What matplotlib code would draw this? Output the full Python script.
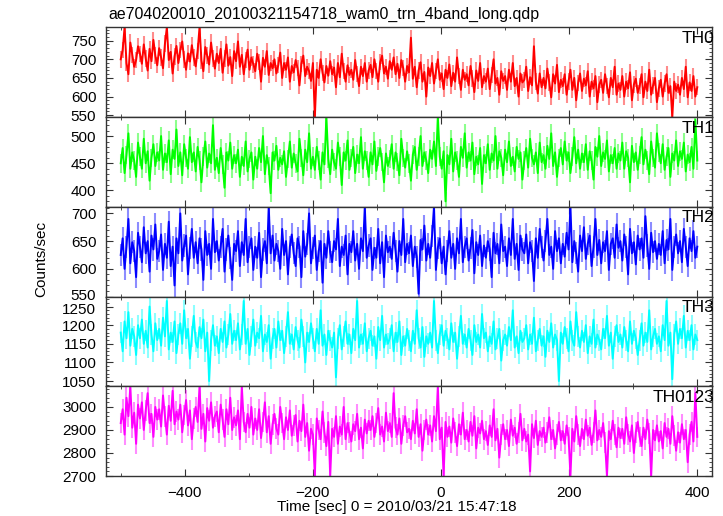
import numpy as np
import matplotlib
matplotlib.use("Agg")
import matplotlib.pyplot as plt
import matplotlib.transforms as mtransforms
from matplotlib.ticker import MultipleLocator

plt.rcParams['font.family'] = ['Liberation Sans', 'DejaVu Sans']

# light curve, 3 s bins from -500 s to 400 s
t_start = -500
bin_sec = 3

th0 = [
    700, 725, 786, 690, 660, 745, 712, 680, 698, 735,
    715, 688, 740, 702, 670, 728, 695, 752, 710, 684,
    730, 705, 676, 742, 786, 698, 720, 662, 708, 736,
    690, 725, 748, 700, 672, 716, 694, 738, 705, 681,
    722, 786, 697, 668, 733, 710, 686, 745, 702, 675,
    715, 690, 728, 664, 702, 740, 683, 706, 655, 722,
    695, 748, 680, 712, 660, 698, 726, 672, 705, 686,
    668, 715, 692, 640, 704, 680, 722, 658, 690, 676,
    700, 662, 685, 718, 650, 690, 672, 705, 640, 682,
    665, 698, 676, 630, 688, 710, 655, 680, 668, 642,
    690, 545, 672, 650, 700, 664, 638, 682, 656, 695,
    660, 678, 625, 690, 652, 715, 668, 640, 684, 658,
    672, 645, 698, 660, 628, 680, 655, 690, 640, 670,
    685, 652, 700, 668, 640, 692, 710, 662, 680, 648,
    695, 672, 705, 660, 688, 650, 698, 676, 640, 682,
    665, 758, 648, 680, 625, 670, 692, 640, 666, 600,
    678, 655, 690, 635, 668, 700, 645, 662, 620, 672,
    650, 686, 628, 664, 640, 705, 655, 618, 672, 645,
    660, 630, 682, 648, 612, 670, 642, 690, 625, 655,
    640, 675, 620, 658, 700, 635, 650, 605, 668, 642,
    655, 618, 672, 640, 690, 628, 650, 600, 662, 638,
    645, 680, 615, 652, 630, 735, 640, 608, 662, 625,
    650, 622, 675, 638, 598, 660, 635, 685, 612, 645,
    628, 660, 605, 640, 672, 618, 650, 590, 636, 662,
    615, 648, 630, 668, 600, 640, 622, 655, 585, 632,
    645, 610, 660, 628, 598, 650, 625, 680, 605, 635,
    618, 655, 600, 640, 622, 665, 590, 632, 648, 610,
    628, 660, 598, 640, 615, 672, 605, 630, 650, 585,
    622, 645, 600, 635, 660, 610, 628, 545, 640, 615,
    632, 605, 650, 620, 680, 598, 638, 615, 655, 600,
    625,
]

th1 = [
    450, 478, 432, 465, 505, 440, 470, 455, 425, 488,
    462, 440, 495, 450, 472, 418, 460, 485, 445, 470,
    455, 500, 438, 468, 452, 492, 430, 475, 458, 512,
    445, 470, 428, 485, 460, 440, 498, 452, 470, 435,
    480, 455, 415, 462, 490, 442, 468, 450, 520, 438,
    460, 432, 478, 448, 405, 470, 455, 488, 440, 465,
    450, 475, 425, 462, 445, 490, 435, 458, 470, 420,
    462, 440, 478, 452, 500, 430, 465, 445, 395, 470,
    455, 482, 438, 460, 448, 472, 425, 458, 490, 442,
    468, 450, 435, 495, 460, 428, 475, 452, 505, 440,
    462, 438, 480, 455, 420, 470, 448, 536, 458, 430,
    475, 452, 440, 488, 462, 410, 470, 455, 492, 438,
    460, 480, 432, 466, 450, 498, 440, 472, 455, 425,
    470, 448, 490, 436, 462, 478, 452, 415, 468, 445,
    458, 485, 440, 470, 452, 428, 495, 460, 442, 472,
    450, 418, 466, 480, 438, 462, 500, 445, 470, 455,
    432, 475, 458, 490, 445, 536, 462, 440, 472, 380,
    465, 448, 495, 435, 470, 455, 425, 480, 460, 505,
    442, 470, 455, 488, 430, 462, 448, 478, 412, 465,
    450, 485, 438, 468, 455, 500, 440, 472, 460, 428,
    475, 452, 490, 445, 462, 435, 480, 458, 470, 420,
    455, 478, 442, 495, 460, 448, 470, 432, 488, 452,
    465, 440, 482, 458, 505, 445, 470, 425, 460, 478,
    448, 490, 455, 470, 432, 462, 498, 450, 475, 440,
    468, 452, 485, 438, 472, 455, 420, 480, 462, 500,
    445, 470, 458, 492, 435, 465, 450, 478, 440, 468,
    455, 488, 440, 472, 460, 415, 482, 452, 470, 438,
    465, 498, 448, 475, 455, 430, 490, 460, 442, 505,
    470, 450, 485, 438, 462, 478, 425, 468, 455, 492,
    445, 472, 458, 488, 435, 466, 452, 480, 440, 530,
    455,
]

th2 = [
    625, 655, 600, 640, 690, 610, 648, 632, 585, 665,
    640, 612, 675, 628, 650, 595, 660, 635, 680, 618,
    632, 662, 598, 645, 620, 685, 605, 640, 570, 655,
    628, 700, 615, 642, 660, 590, 638, 672, 620, 648,
    610, 655, 635, 580, 668, 625, 645, 600, 690, 630,
    650, 615, 640, 672, 595, 635, 660, 620, 580, 645,
    632, 668, 605, 648, 625, 690, 612, 640, 655, 598,
    640, 620, 665, 585, 635, 650, 610, 712, 628, 660,
    615, 645, 632, 600, 672, 625, 650, 590, 640, 662,
    628, 605, 655, 640, 585, 668, 622, 645, 700, 610,
    638, 660, 598, 632, 650, 575, 645, 620, 668, 630,
    612, 650, 635, 690, 605, 640, 625, 660, 590, 645,
    630, 668, 615, 645, 600, 655, 632, 712, 620, 642,
    655, 598, 638, 620, 672, 610, 648, 585, 660, 630,
    640, 618, 665, 632, 595, 650, 625, 690, 612, 645,
    628, 660, 605, 640, 622, 555, 652, 635, 678, 615,
    645, 620, 660, 712, 598, 638, 655, 610, 640, 590,
    632, 668, 620, 645, 600, 655, 628, 690, 612, 640,
    655, 615, 638, 670, 592, 648, 625, 660, 605, 642,
    620, 650, 635, 585, 665, 628, 645, 610, 680, 632,
    640, 605, 655, 625, 690, 618, 645, 598, 660, 635,
    628, 662, 610, 648, 632, 578, 655, 620, 672, 640,
    615, 650, 690, 625, 640, 600, 668, 632, 655, 610,
    645, 622, 665, 635, 712, 612, 650, 628, 595, 660,
    632, 675, 618, 645, 660, 605, 640, 690, 625, 652,
    610, 648, 632, 668, 598, 645, 655, 620, 680, 638,
    650, 615, 662, 640, 590, 672, 628, 648, 608, 660,
    635, 655, 620, 695, 642, 600, 665, 630, 650, 618,
    645, 625, 668, 610, 652, 635, 690, 598, 640, 662,
    628, 650, 612, 672, 640, 605, 655, 632, 668, 620,
    640,
]

th3 = [
    1180, 1130, 1210, 1165, 1235, 1145, 1190, 1170, 1120, 1200,
    1165, 1215, 1150, 1185, 1140, 1250, 1175, 1130, 1205, 1160,
    1190, 1145, 1220, 1170, 1265, 1135, 1180, 1155, 1210, 1125,
    1175, 1205, 1150, 1240, 1165, 1190, 1110, 1170, 1225, 1155,
    1140, 1195, 1165, 1215, 1130, 1180, 1050, 1160, 1200, 1145,
    1170, 1125, 1190, 1155, 1210, 1140, 1175, 1230, 1150, 1185,
    1160, 1205, 1135, 1175, 1265, 1150, 1190, 1120, 1170, 1215,
    1145, 1180, 1165, 1225, 1130, 1175, 1155, 1200, 1110, 1165,
    1190, 1140, 1210, 1160, 1185, 1125, 1170, 1235, 1150, 1175,
    1135, 1195, 1160, 1140, 1215, 1170, 1100, 1180, 1155, 1205,
    1165, 1130, 1190, 1150, 1240, 1145, 1175, 1120, 1185, 1160,
    1140, 1180, 1060, 1165, 1200, 1135, 1170, 1210, 1150, 1175,
    1125, 1190, 1160, 1265, 1140, 1175, 1150, 1205, 1130, 1165,
    1185, 1145, 1170, 1110, 1195, 1160, 1225, 1140, 1175, 1150,
    1165, 1200, 1130, 1180, 1155, 1210, 1120, 1170, 1145, 1190,
    1160, 1130, 1185, 1150, 1240, 1165, 1140, 1195, 1115, 1170,
    1150, 1180, 1140, 1265, 1160, 1125, 1175, 1200, 1145, 1185,
    1165, 1135, 1205, 1155, 1180, 1110, 1170, 1225, 1150, 1175,
    1140, 1190, 1160, 1120, 1200, 1155, 1175, 1140, 1230, 1165,
    1180, 1130, 1170, 1150, 1210, 1135, 1165, 1190, 1105, 1160,
    1175, 1145, 1195, 1160, 1240, 1140, 1170, 1125, 1185, 1155,
    1165, 1200, 1135, 1175, 1150, 1220, 1130, 1160, 1190, 1145,
    1170, 1115, 1185, 1155, 1205, 1140, 1175, 1160, 1050, 1180,
    1150, 1195, 1165, 1130, 1210, 1160, 1145, 1235, 1170, 1140,
    1185, 1155, 1200, 1125, 1170, 1150, 1215, 1140, 1175, 1160,
    1135, 1190, 1165, 1225, 1145, 1180, 1110, 1170, 1200, 1155,
    1175, 1140, 1195, 1160, 1130, 1210, 1150, 1185, 1165, 1120,
    1160, 1205, 1145, 1180, 1155, 1240, 1135, 1170, 1190, 1150,
    1170, 1130, 1200, 1160, 1265, 1145, 1180, 1055, 1175, 1210,
    1150, 1190, 1165, 1225, 1140, 1185, 1160, 1200, 1135, 1175,
    1160,
]

th0123 = [
    2930, 2990, 2880, 3040, 2960, 3090, 2910, 2975, 2840, 3010,
    2950, 3020, 2900, 2985, 3060, 2930, 2970, 2870, 3000, 2945,
    2990, 2915, 3050, 2960, 2880, 3005, 2940, 3070, 2925, 2980,
    2945, 3010, 2890, 2965, 3030, 2920, 2985, 2860, 2950, 3000,
    2935, 3090, 2905, 2970, 2850, 2995, 2940, 3020, 2910, 2960,
    2980, 2890, 3010, 2945, 2870, 2990, 2925, 3040, 2900, 2955,
    2920, 2985, 2860, 3090, 2935, 2890, 2970, 2910, 3000, 2880,
    2950, 2900, 2990, 2865, 2935, 3020, 2890, 2960, 2840, 2925,
    2970, 2905, 2880, 3000, 2930, 2860, 2955, 2900, 2985, 2875,
    2920, 2965, 2850, 2940, 2895, 3010, 2870, 2930, 2810, 2905,
    2880, 2700, 2950, 2900, 2860, 2980, 2890, 2830, 2935, 2700,
    2905, 2870, 2960, 2840, 2915, 2880, 3000, 2860, 2930, 2890,
    2850, 2925, 2895, 2970, 2860, 2910, 2820, 2945, 2885, 2940,
    2900, 2960, 2870, 2930, 2995, 2880, 2915, 2850, 2975, 2895,
    2930, 2870, 3060, 2910, 2880, 2950, 2840, 2920, 2960, 2890,
    2905, 2860, 2940, 2885, 2990, 2870, 2925, 2810, 2900, 2945,
    2880, 2920, 2850, 2960, 2895, 3090, 2860, 2910, 2700, 2935,
    2870, 2915, 2845, 2950, 2890, 2830, 2925, 2880, 2975, 2860,
    2900, 2850, 2935, 2875, 2960, 2820, 2910, 2885, 2940, 2860,
    2895, 2835, 2920, 2870, 2990, 2855, 2905, 2780, 2880, 2925,
    2860, 2900, 2830, 2945, 2875, 2910, 2840, 2890, 2970, 2855,
    2905, 2850, 2880, 2720, 2925, 2865, 2940, 2835, 2895, 2870,
    2910, 2845, 2890, 2955, 2860, 2900, 2820, 2880, 2935, 2855,
    2895, 2840, 2920, 2870, 2700, 2905, 2850, 2960, 2880, 2830,
    2905, 2860, 2945, 2875, 2910, 2835, 2890, 2985, 2855, 2900,
    2870, 2930, 2845, 2700, 2895, 2860, 2940, 2880, 2825, 2910,
    2865, 2905, 2840, 2955, 2880, 2850, 2920, 2800, 2890, 2935,
    2870, 2830, 2910, 2860, 2945, 2885, 2700, 2900, 2855, 2920,
    2850, 2895, 2820, 2930, 2870, 2905, 2840, 2960, 2875, 2810,
    2890, 2845, 2925, 2860, 2900, 2760, 2880, 2935, 2850, 3060,
    2870,
]

# typical 1-sigma error per band (counts/sec)
errors = [22, 17, 20, 28, 45]

bands = ["TH0", "TH1", "TH2", "TH3", "TH0123"]
series = [th0, th1, th2, th3, th0123]
colors = ["#ff0000", "#00ff00", "#0000ff", "#00ffff", "#ff00ff"]
ylims = [(545, 786), (370, 535), (550, 712), (1036, 1277), (2700, 3090)]
ymajor = [50, 50, 50, 50, 100]
yminor = [10, 10, 10, 10, 20]

W, H = 723, 516
fig = plt.figure(figsize=(W / 100, H / 100), dpi=100)

left, right = 106, 711.7
top, bottom = 27.3, 476.0
ph = (bottom - top) / 5

axes = []
for i, (name, vals) in enumerate(zip(bands, series)):
    ax = fig.add_axes([left / W, (H - (top + (i + 1) * ph)) / H,
                       (right - left) / W, ph / H])
    vals = np.array(vals)
    t = t_start + bin_sec * np.arange(len(vals))
    ax.vlines(t, vals - errors[i], vals + errors[i], color=colors[i],
              lw=1.5, alpha=0.45)
    ax.plot(t, vals, color=colors[i], lw=1.4)
    ax.set_xlim(-523, 422.5)
    ax.set_ylim(*ylims[i])
    ax.xaxis.set_major_locator(MultipleLocator(200))
    ax.xaxis.set_minor_locator(MultipleLocator(100))
    ax.yaxis.set_major_locator(MultipleLocator(ymajor[i]))
    ax.yaxis.set_minor_locator(MultipleLocator(yminor[i]))
    ax.tick_params(which="both", direction="in", top=True, right=True,
                   labelsize=11, pad=7, color="#333333")
    ax.tick_params(which="major", length=5, width=0.8)
    ax.tick_params(which="minor", length=2.5, width=0.6)
    for sp in ax.spines.values():
        sp.set_linewidth(1.0)
        sp.set_color("#333333")
    if i < 4:
        ax.tick_params(labelbottom=False)
    ax.text(1.005, 0.96, name, transform=ax.transAxes, ha="right", va="top",
            fontsize=12.5)
    axes.append(ax)

# the 550 / 1250 labels sit close together: nudge them apart a little
fig.canvas.draw()
up = mtransforms.ScaledTranslation(0, 2 / 100, fig.dpi_scale_trans)
down = mtransforms.ScaledTranslation(0, -2 / 100, fig.dpi_scale_trans)
for tick in axes[2].yaxis.get_major_ticks():
    if abs(tick.get_loc() - 550) < 1:
        tick.label1.set_transform(tick.label1.get_transform() + up)
for tick in axes[3].yaxis.get_major_ticks():
    if abs(tick.get_loc() - 1250) < 1:
        tick.label1.set_transform(tick.label1.get_transform() + down)

fig.text(108 / W, 1 - 14 / H, "ae704020010_20100321154718_wam0_trn_4band_long.qdp",
         ha="left", va="center", fontsize=11.4)
fig.text(397 / W, 1 - 507 / H, "Time [sec] 0 = 2010/03/21 15:47:18",
         ha="center", va="center", fontsize=11)
fig.text(41 / W, 1 - 259 / H, "Counts/sec", rotation=90,
         ha="center", va="center", fontsize=11)

fig.savefig("out.png", dpi=100)
